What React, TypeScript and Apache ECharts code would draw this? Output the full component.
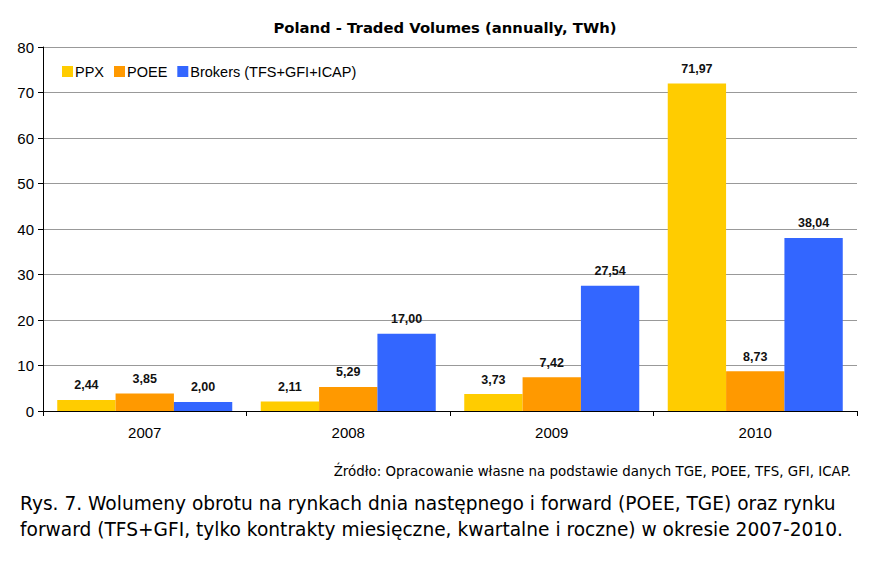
import React, { useEffect, useRef } from "react";
import * as echarts from "echarts";

const categories = ["2007", "2008", "2009", "2010"];
const ppx = [2.44, 2.11, 3.73, 71.97];
const poee = [3.85, 5.29, 7.42, 8.73];
const brokers = [2.0, 17.0, 27.54, 38.04];
const seriesNames = ["PPX", "POEE", "Brokers (TFS+GFI+ICAP)"];
const colors = ["#FFCC00", "#FF9900", "#3366FF"];
const titleText = "Poland - Traded Volumes (annually, TWh)";
const sourceText = "Źródło: Opracowanie własne na podstawie danych TGE, POEE, TFS, GFI, ICAP.";
const captionLines = [
  "Rys. 7. Wolumeny obrotu na rynkach dnia następnego i forward (POEE, TGE) oraz rynku",
  "forward (TFS+GFI, tylko kontrakty miesięczne, kwartalne i roczne) w okresie 2007-2010.",
];

export default function App() {
  const ref = useRef<HTMLDivElement>(null);
  useEffect(() => {
    document.body.style.margin = "0";
    const chart = echarts.init(ref.current!, null, { renderer: "svg" });
    const mk = (name: string, data: number[], color: string) => ({
      name,
      type: "bar",
      data,
      barGap: "0%",
      barCategoryGap: "14%",
      itemStyle: { color },
      label: {
        show: true,
        position: "top",
        distance: 8,
        fontFamily: "Arial",
        fontWeight: "bold",
        fontSize: 12.5,
        color: "#111",
        formatter: (p: any) => p.value.toFixed(2).replace(".", ","),
      },
    });
    chart.setOption({
      animation: false,
      backgroundColor: "#fff",
      title: {
        text: titleText,
        left: 440,
        textAlign: "center",
        top: 15,
        textStyle: { fontFamily: "DejaVu Sans", fontWeight: "bold", fontSize: 14.8, color: "#000" },
      },
      legend: {
        data: seriesNames,
        left: 57,
        top: 59,
        icon: "rect",
        itemWidth: 11,
        itemHeight: 11,
        itemGap: 10,
        textStyle: { fontFamily: "Arial", fontSize: 14.5, color: "#000", padding: [0, 0, 0, -3] },
      },
      grid: { left: 43, right: 31, top: 47, bottom: 162, containLabel: false },
      xAxis: {
        type: "category",
        data: categories,
        axisLine: { lineStyle: { color: "#000", width: 1 } },
        axisTick: { show: true, length: 5, lineStyle: { color: "#000" } },
        axisLabel: { fontFamily: "Arial", fontSize: 15, color: "#000", margin: 14 },
      },
      yAxis: {
        type: "value",
        min: 0,
        max: 80,
        interval: 10,
        axisLine: { show: true, lineStyle: { color: "#000", width: 1 } },
        axisTick: { show: true, length: 5, lineStyle: { color: "#000" } },
        axisLabel: { fontFamily: "Arial", fontSize: 15, color: "#000", margin: 9 },
        splitLine: { lineStyle: { color: "#999", width: 1 } },
      },
      series: [
        mk(seriesNames[0], ppx, colors[0]),
        mk(seriesNames[1], poee, colors[1]),
        mk(seriesNames[2], brokers, colors[2]),
      ],
      graphic: [
        {
          type: "text",
          right: 37,
          top: 465,
          style: { text: sourceText, fontFamily: "DejaVu Sans", fontSize: 13.4, fill: "#000" },
        },
        {
          type: "text",
          left: 20,
          top: 490,
          style: {
            text: captionLines.join("\n"),
            fontFamily: "DejaVu Sans",
            fontSize: 18.6,
            lineHeight: 26,
            fill: "#000",
          },
        },
      ],
    });
    return () => chart.dispose();
  }, []);
  return <div ref={ref} style={{ width: 888, height: 573 }} />;
}
